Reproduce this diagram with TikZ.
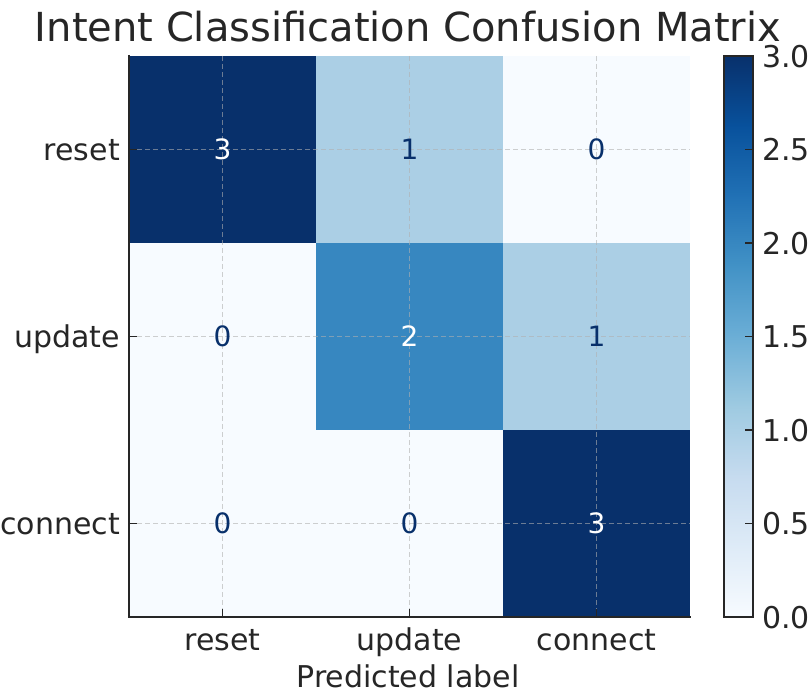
\documentclass[tikz,border=0pt]{standalone}
\usepackage{fontspec}
\setmainfont{DejaVu Sans}
\definecolor{txt}{HTML}{262626}
\definecolor{gridc}{HTML}{B0B0B0}
\definecolor{c0}{HTML}{F7FBFF}
\definecolor{c1}{HTML}{ABCFE5}
\definecolor{c2}{HTML}{3787C0}
\definecolor{c3}{HTML}{08306B}
\definecolor{s0}{HTML}{F7FBFF}
\definecolor{s1}{HTML}{DEEBF7}
\definecolor{s2}{HTML}{C6DBEF}
\definecolor{s3}{HTML}{9ECAE1}
\definecolor{s4}{HTML}{6BAED6}
\definecolor{s5}{HTML}{4292C6}
\definecolor{s6}{HTML}{2171B5}
\definecolor{s7}{HTML}{08519C}
\definecolor{s8}{HTML}{08306B}
\begin{document}
\begin{tikzpicture}[x=1pt,y=-1pt,
  lbl/.style={text=txt, inner sep=0pt, font=\fontsize{30}{34}\selectfont},
  num/.style={inner sep=0pt, font=\fontsize{28}{32}\selectfont},
  gridl/.style={draw=gridc, draw opacity=0.6, line width=1.1pt, dash pattern=on 5pt off 3pt},
  spine/.style={draw=txt, line width=1.8pt},
  tickm/.style={draw=txt, line width=1.6pt}]
\useasboundingbox (0,0) rectangle (811,693);
\fill[white] (0,0) rectangle (811,693);
% title
\node[text=txt, inner sep=0pt, anchor=base, font=\fontsize{40}{44}\selectfont] (title) at (408,42) {Intent Classification Confusion Matrix};
% cells
\foreach \r/\c/\v in {0/0/3,0/1/1,0/2/0,1/0/0,1/1/2,1/2/1,2/0/0,2/1/0,2/2/3} {
  \pgfmathsetmacro\xa{129+\c*187}
  \pgfmathsetmacro\ya{56+\r*187}
  \fill[fill=c\v] (\xa,\ya) rectangle ++(187.3,187.3);
}
% grid
\foreach \k in {0,1,2} {
  \pgfmathsetmacro\g{222.5+\k*187}
  \draw[gridl] (\g,56) -- (\g,617);
  \draw[gridl] (129,\g-73) -- (690,\g-73);
}
% numbers
\foreach \r/\c/\v/\tc in {0/0/3/white,0/1/1/c3,0/2/0/c3,1/0/0/c3,1/1/2/white,1/2/1/c3,2/0/0/c3,2/1/0/c3,2/2/3/white} {
  \pgfmathsetmacro\xc{222.5+\c*187}
  \pgfmathsetmacro\yc{149.5+\r*187}
  \node[num, text=\tc] (n\r\c) at (\xc,\yc) {\v};
}
% spines and ticks
\draw[spine] (129,55) -- (129,617) -- (690.5,617);
\foreach \k/\name in {0/reset,1/update,2/connect} {
  \pgfmathsetmacro\g{222.5+\k*187}
  \pgfmathsetmacro\h{149.5+\k*187}
  \draw[tickm] (129,\h) -- (137,\h);
  \draw[tickm] (\g,617) -- (\g,609);
  \node[lbl, anchor=base east] (yl\k) at (120,\h+11) {\name};
  \node[lbl, anchor=base] (xl\k) at (\g,650) {\name};
}
\node[lbl, anchor=base] (xlabel) at (408,687) {Predicted label};
% colorbar
\foreach \i/\j in {0/1,1/2,2/3,3/4,4/5,5/6,6/7,7/8} {
  \pgfmathsetmacro\yb{617-\i*70.125}
  \pgfmathsetmacro\yt{617-\j*70.125-0.6}
  \shade[bottom color=s\i, top color=s\j] (724,\yb) rectangle (753,\yt);
}
\draw[spine] (724,56) rectangle (753,617);
\foreach \v in {0.0,0.5,1.0,1.5,2.0,2.5,3.0} {
  \pgfmathsetmacro\yv{617-\v*187}
  \draw[tickm] (745,\yv) -- (753,\yv);
  \node[lbl, anchor=base west] (cb\v) at (762,\yv+11) {\v};
}
\end{tikzpicture}
\end{document}
